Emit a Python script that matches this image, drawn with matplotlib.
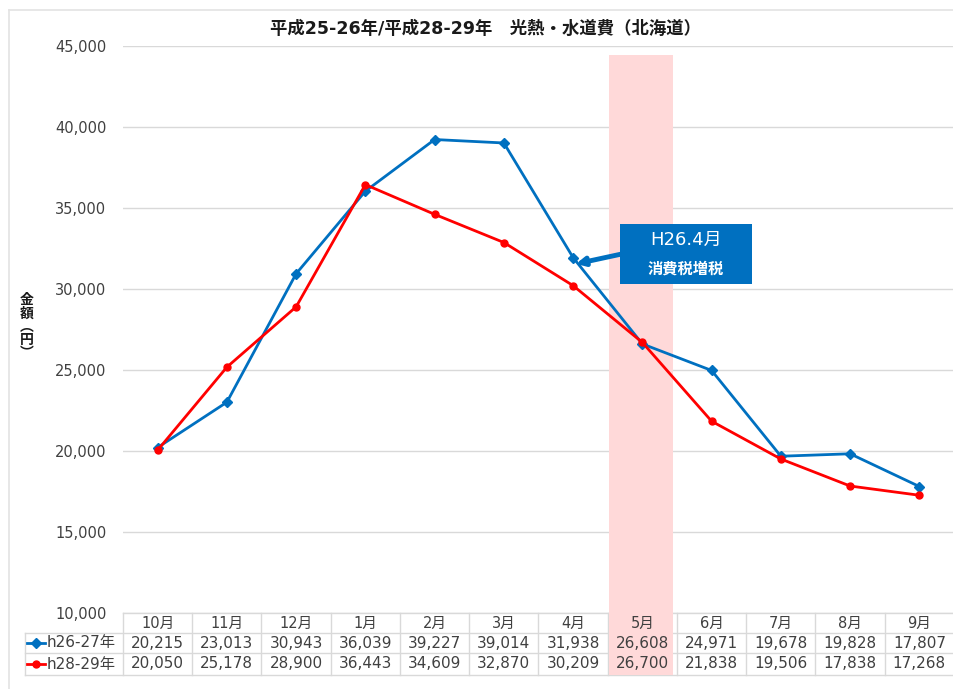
import matplotlib
matplotlib.use("Agg")
import matplotlib.pyplot as plt
from matplotlib.lines import Line2D
from matplotlib.patches import Rectangle
from matplotlib.ticker import FuncFormatter, MultipleLocator

plt.rcParams["font.family"] = ["DejaVu Sans", "Noto Sans CJK JP"]

MONTHS = ["10月", "11月", "12月", "1月", "2月", "3月", "4月", "5月", "6月", "7月", "8月", "9月"]
H26_27 = [20215, 23013, 30943, 36039, 39227, 39014, 31938, 26608, 24971, 19678, 19828, 17807]
H28_29 = [20050, 25178, 28900, 36443, 34609, 32870, 30209, 26700, 21838, 19506, 17838, 17268]
SERIES_NAMES = ["h26-27年", "h28-29年"]

BLUE = "#0070C0"
RED = "#FF0000"
GRID = "#D9D9D9"
TXT = "#404040"

W, H = 954, 689
fig = plt.figure(figsize=(W / 100, H / 100), dpi=100)
ax = fig.add_axes([123 / W, 1 - 613 / H, 1 - 123 / W, (613 - 46) / H])
ax_h = 613 - 46  # axes height in px

# outer chart frame (partially visible)
fig.add_artist(Line2D([9 / W, 9 / W], [0, 1 - 10 / H], color="#E3E3E3", lw=1.2, transform=fig.transFigure))
fig.add_artist(Line2D([9 / W, 1], [1 - 10 / H, 1 - 10 / H], color="#E3E3E3", lw=1.2, transform=fig.transFigure))

x = list(range(len(MONTHS)))
ax.set_xlim(-0.5, len(MONTHS) - 0.5)
ax.set_ylim(10000, 45000)
ax.yaxis.set_major_locator(MultipleLocator(5000))
ax.yaxis.set_major_formatter(FuncFormatter(lambda v, p: f"{int(v):,}"))
ax.tick_params(axis="y", length=0, pad=12, labelsize=10.5, labelcolor=TXT)
ax.set_xticks([])
ax.grid(axis="y", color=GRID, lw=1)
ax.set_axisbelow(True)
for s in ax.spines.values():
    s.set_visible(False)

# consumption-tax highlight band (5月 column)
ax.axvspan(6.518, 7.442, ymin=-62 / ax_h, ymax=(613 - 55) / ax_h, color="#FFD9D9",
           lw=0, clip_on=False, zorder=1.5)

ax.plot(x, H26_27, color=BLUE, lw=2, marker="D", ms=5.5, zorder=3)
ax.plot(x, H28_29, color=RED, lw=2, marker="o", ms=5, zorder=3)

# data table below the axes
tr = ax.get_xaxis_transform()
row_y = [0, -20 / ax_h, -40 / ax_h, -62 / ax_h]
left = -1.915
right = len(MONTHS) - 0.5
ax.plot([-0.5, right], [row_y[0]] * 2, color=GRID, lw=1, transform=tr, clip_on=False, zorder=1)
for yy in row_y[1:]:
    ax.plot([left, right], [yy] * 2, color=GRID, lw=1, transform=tr, clip_on=False, zorder=1)
ax.plot([left, left], [row_y[1], row_y[3]], color=GRID, lw=1, transform=tr, clip_on=False, zorder=1)
for k in range(len(MONTHS) + 1):
    ax.plot([k - 0.5] * 2, [row_y[0], row_y[3]], color=GRID, lw=1, transform=tr, clip_on=False, zorder=1)

for i, m in enumerate(MONTHS):
    ax.text(i, (row_y[0] + row_y[1]) / 2, m, transform=tr, ha="center", va="center",
            fontsize=10.5, color=TXT, zorder=2)
    ax.text(i, (row_y[1] + row_y[2]) / 2, f"{H26_27[i]:,}", transform=tr, ha="center", va="center",
            fontsize=11, color=TXT, zorder=2)
    ax.text(i, (row_y[2] + row_y[3]) / 2, f"{H28_29[i]:,}", transform=tr, ha="center", va="center",
            fontsize=11, color=TXT, zorder=2)

for r, (name, col, mk, ms) in enumerate(zip(SERIES_NAMES, [BLUE, RED], ["D", "o"], [5.5, 5])):
    yc = (row_y[r + 1] + row_y[r + 2]) / 2
    ax.plot([-1.885, -1.63], [yc, yc], color=col, lw=2, transform=tr, clip_on=False)
    ax.plot([-1.757], [yc], color=col, marker=mk, ms=ms, transform=tr, clip_on=False)
    ax.text(-1.61, yc, name, transform=tr, ha="left", va="center", fontsize=11, color=TXT)

# annotation box with arrow
ax.add_patch(Rectangle((6.677, 30282), 1.906, 3710, facecolor=BLUE, edgecolor="none", zorder=4))
ax.text(7.63, 33000, "H26.4月", ha="center", va="center", color="white", fontsize=13, zorder=5)
ax.text(7.63, 31250, "消費税増税", ha="center", va="center", color="white", fontsize=11,
        fontweight="bold", zorder=5)
ax.annotate("", xy=(6.04, 31550), xytext=(6.69, 32150),
            arrowprops=dict(arrowstyle="-|>", color=BLUE, lw=3.5, mutation_scale=12,
                            shrinkA=0, shrinkB=0), zorder=4)

fig.text(486 / W, 1 - 29 / H, "平成25-26年/平成28-29年　光熱・水道費（北海道）",
         ha="center", va="center", fontsize=12.5, fontweight="bold", color="#1A1A1A")
fig.text(27 / W, 1 - 327 / H, "金\n額\n︵\n円\n︶", ha="center", va="center", fontsize=10,
         fontweight="bold", linespacing=0.95, color="#1A1A1A", family=["Noto Sans CJK JP"])

fig.savefig("out.png", dpi=100)
